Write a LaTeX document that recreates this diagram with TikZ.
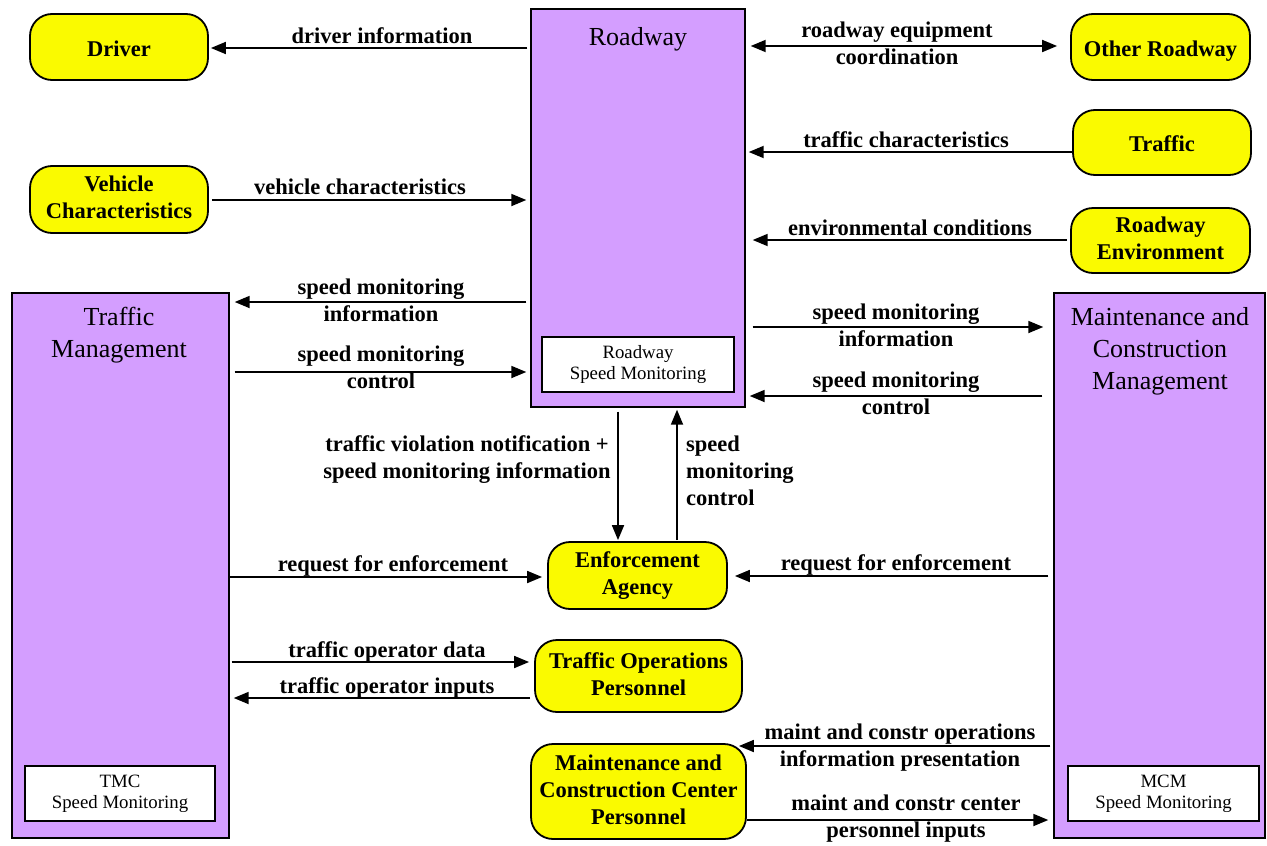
\documentclass[tikz,border=0pt]{standalone}
\usepackage{fontspec}
\setmainfont{Liberation Serif}
\usetikzlibrary{arrows.meta}
\definecolor{termyellow}{RGB}{250,250,0}
\definecolor{subpurple}{RGB}{212,158,255}
\newcommand*\flowfont{\fontsize{22.5}{27}\selectfont\bfseries}
\newcommand*\titlefont{\fontsize{26}{32}\selectfont}
\newcommand*\smallfont{\fontsize{18.8}{21}\selectfont}
% invisible rules that fix the height and depth of every text line
\newcommand*\termstrut{\rule[-4.1pt]{0pt}{27pt}}
\newcommand*\labelstrut{\rule[-7pt]{0pt}{27pt}}
\newcommand*\titlestrut{\rule[-5.6pt]{0pt}{32pt}}
\newcommand*\smallstrut{\rule[-2.5pt]{0pt}{21pt}}
\begin{document}
\begin{tikzpicture}[x=1pt,y=-1pt,
  terminator/.style={draw, line width=1.8pt, fill=termyellow, rounded corners=22pt,
    align=center, font=\flowfont, inner sep=0pt,
    execute at begin node=\termstrut, execute at end node=\termstrut},
  subsystem/.style={draw, line width=1.4pt, fill=subpurple, inner sep=0pt},
  subtitle/.style={font=\titlefont, align=center, inner sep=0pt,
    execute at begin node=\titlestrut, execute at end node=\titlestrut},
  pspec/.style={draw, line width=1.3pt, fill=white, align=center, font=\smallfont,
    inner sep=0pt, execute at begin node=\smallstrut, execute at end node=\smallstrut},
  flowlabel/.style={font=\flowfont, align=center, inner sep=0pt,
    execute at begin node=\labelstrut, execute at end node=\labelstrut},
  flow/.style={line width=1.8pt, -{Triangle[length=15pt,width=12pt]}},
  biflow/.style={line width=1.8pt, {Triangle[length=15pt,width=12pt]}-{Triangle[length=15pt,width=12pt]}}]
\useasboundingbox (0,0) rectangle (1267,846);

% subsystems
\node[subsystem, minimum width=214pt, minimum height=398pt] (road) at (638,208) {};
\node[subtitle] (roadtitle) at (638,35) {Roadway};
\node[pspec, minimum width=192pt, minimum height=55pt] (roadpspec) at (638,364.5) {Roadway\\Speed Monitoring};

\node[subsystem, minimum width=217pt, minimum height=545pt] (tm) at (120.5,565.5) {};
\node[subtitle] (tmtitle) at (119,335) {Traffic\\Management};
\node[pspec, minimum width=190pt, minimum height=55pt] (tmpspec) at (120,793.5) {TMC\\Speed Monitoring};

\node[subsystem, minimum width=211pt, minimum height=545pt] (mcm) at (1159.5,565.5) {};
\node[subtitle] (mcmtitle) at (1160,351) {Maintenance and\\Construction\\Management};
\node[pspec, minimum width=191pt, minimum height=55pt] (mcmpspec) at (1163.5,793.5) {MCM\\Speed Monitoring};

% terminators
\node[terminator, minimum width=178pt, minimum height=66pt] (driver) at (119,47) {Driver};
\node[terminator, minimum width=178pt, minimum height=67pt] (vehicle) at (119,199.5) {Vehicle\\Characteristics};
\node[terminator, minimum width=179pt, minimum height=66pt] (oroad) at (1160.5,47) {Other Roadway};
\node[terminator, minimum width=178pt, minimum height=65pt] (traffic) at (1162,142.5) {Traffic};
\node[terminator, minimum width=179pt, minimum height=65pt] (renv) at (1160.5,240.5) {Roadway\\Environment};
\node[terminator, minimum width=179pt, minimum height=67pt] (enf) at (637.5,575.5) {Enforcement\\Agency};
\node[terminator, minimum width=207pt, minimum height=72pt] (tops) at (638.5,676) {Traffic Operations\\Personnel};
\node[terminator, minimum width=215pt, minimum height=95pt] (mcc) at (638.5,791.5) {Maintenance and\\Construction Center\\Personnel};

% flows
\draw[flow, shorten <=3pt, shorten >=2pt] (road.west |- 0,48) -- (driver.east |- 0,48);
\draw[biflow, shorten <=5pt, shorten >=13pt] (road.east |- 0,46) -- (oroad.west |- 0,46);
\draw[flow, shorten >=3pt] (traffic.west |- 0,152) -- (road.east |- 0,152);
\draw[flow, shorten <=3pt, shorten >=4pt] (vehicle.east |- 0,200) -- (road.west |- 0,200);
\draw[flow, shorten <=3pt, shorten >=7pt] (renv.west |- 0,240) -- (road.east |- 0,240);
\draw[flow, shorten <=4pt, shorten >=5pt] (road.west |- 0,302) -- (tm.east |- 0,302);
\draw[flow, shorten <=5pt, shorten >=4pt] (tm.east |- 0,372) -- (road.west |- 0,372);
\draw[flow, shorten <=7pt, shorten >=10pt] (road.east |- 0,327) -- (mcm.west |- 0,327);
\draw[flow, shorten <=11pt, shorten >=4pt] (mcm.west |- 0,396) -- (road.east |- 0,396);
\draw[flow, shorten <=4pt, shorten >=1pt] (road.south -| 618,0) -- (enf.north -| 618,0);
\draw[flow, shorten <=1pt, shorten >=2pt] (enf.north -| 677,0) -- (road.south -| 677,0);
\draw[flow, shorten >=5pt] (tm.east |- 0,577) -- (enf.west |- 0,577);
\draw[flow, shorten <=5pt, shorten >=7pt] (mcm.west |- 0,576) -- (enf.east |- 0,576);
\draw[flow, shorten <=2pt, shorten >=5pt] (tm.east |- 0,662) -- (tops.west |- 0,662);
\draw[flow, shorten <=4pt, shorten >=4pt] (tops.west |- 0,698) -- (tm.east |- 0,698);
\draw[flow, shorten <=3pt, shorten >=-8pt] (mcm.west |- 0,746) -- (mcc.east |- 0,746);
\draw[flow, shorten >=5pt] (mcc.east |- 0,820) -- (mcm.west |- 0,820);

% flow labels
\node[flowlabel] (l1) at (382,37) {driver information};
\node[flowlabel] (l2) at (897,46.5) {roadway equipment\\coordination};
\node[flowlabel] (l3) at (906,141) {traffic characteristics};
\node[flowlabel] (l4) at (360,188) {vehicle characteristics};
\node[flowlabel] (l5) at (910,229) {environmental conditions};
\node[flowlabel] (l6) at (381,304) {speed monitoring\\information};
\node[flowlabel] (l7) at (381,370.5) {speed monitoring\\control};
\node[flowlabel] (l8) at (896,328.5) {speed monitoring\\information};
\node[flowlabel] (l9) at (896,396.5) {speed monitoring\\control};
\node[flowlabel] (l10) at (467,460.5) {traffic violation notification +\\speed monitoring information};
\node[flowlabel, align=left, anchor=west] (l11) at (686,474) {speed\\monitoring\\control};
\node[flowlabel] (l12) at (393,565) {request for enforcement};
\node[flowlabel] (l13) at (896,564) {request for enforcement};
\node[flowlabel] (l14) at (387,651) {traffic operator data};
\node[flowlabel] (l15) at (387,687) {traffic operator inputs};
\node[flowlabel] (l16) at (900,748.5) {maint and constr operations\\information presentation};
\node[flowlabel] (l17) at (906,819.5) {maint and constr center\\personnel inputs};
\end{tikzpicture}
\end{document}
